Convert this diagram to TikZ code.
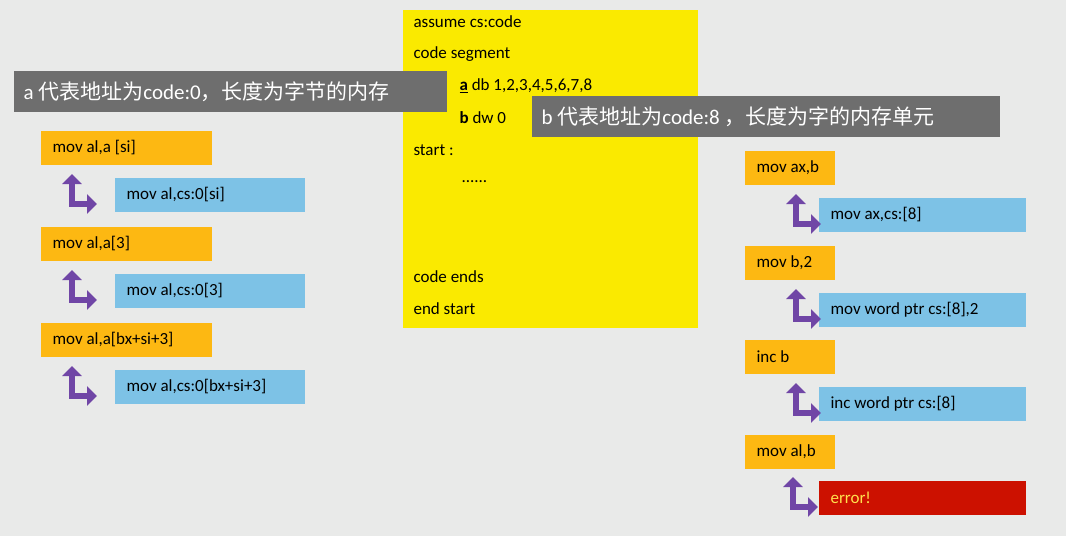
\documentclass[tikz,border=0pt]{standalone}
\usepackage{fontspec}
\setmainfont{Carlito}
\newfontfamily\cjk{Noto Sans CJK SC}
\usetikzlibrary{arrows.meta}
\definecolor{bg}{HTML}{E9EAE9}
\definecolor{yel}{HTML}{FAEA00}
\definecolor{org}{HTML}{FDB812}
\definecolor{blu}{HTML}{7DC2E6}
\definecolor{gry}{HTML}{6E6E6E}
\definecolor{pur}{HTML}{7046A6}
\definecolor{err}{HTML}{CC1100}
\definecolor{errt}{HTML}{FFE14D}
\tikzset{
 box/.style={draw=none,anchor=north west,inner sep=0,minimum height=34pt,text depth=0pt,align=left},
 obox/.style={box,fill=org,minimum width=#1pt},
 bbox/.style={box,fill=blu,minimum width=207pt},
 lbl/.style={anchor=west,font=\fontsize{17}{20}\selectfont},
 banner/.style={fill=gry,text=white,anchor=north west,inner sep=0,minimum height=41pt,font=\fontsize{21}{24}\selectfont},
 parr/.style={pur,line width=6pt,{Triangle[width=19pt,length=10pt]}-{Triangle[width=19pt,length=10pt]}},
 code/.style={anchor=west,font=\fontsize{17}{20}\selectfont}
}
\begin{document}
\begin{tikzpicture}[x=1pt,y=-1pt]
\fill[bg] (0,0) rectangle (1066,536);
\useasboundingbox (0,0) rectangle (1066,536);
% yellow code box
\fill[yel] (403,10) rectangle (698,328);
\node[code] (l1) at (410,22) {assume cs:code};
\node[code] (l2) at (410,54) {code segment};
\node[code] (l3) at (456,86) {\textbf{\underline{a}} db 1,2,3,4,5,6,7,8};
\node[code] (l4) at (456,118) {\textbf{b} dw 0};
\node[code] (l5) at (410,150) {start :};
\node[code] (l6) at (458,182) {......};
\node[code] (l7) at (410,277) {code ends};
\node[code] (l8) at (410,309) {end start};
% banners
\node[banner,minimum width=433pt] (ba) at (14,71) {};
\node[anchor=west,text=white,font=\fontsize{21}{24}\selectfont] at (20,92) {a {\cjk 代表地址为}code:0{\cjk ，长度为字节的内存}};
\node[banner,minimum width=468pt] (bb) at (532,96) {};
\node[anchor=west,text=white,font=\fontsize{21}{24}\selectfont] at (538,117) {b {\cjk 代表地址为}code:8 {\cjk ，长度为字的内存单元}};
% left column
\foreach \y/\o/\b [count=\i] in {131/{mov al,a [si]}/{mov al,cs:0[si]},227/{mov al,a[3]}/{mov al,cs:0[3]},323/{mov al,a[bx+si+3]}/{mov al,cs:0[bx+si+3]}}{
  \node[obox=171] (lo\i) at (41,\y) {};
  \node[lbl] at (49,\y+17) {\o};
  \node[bbox,minimum width=190pt] (lb\i) at (115,\y+47) {};
  \node[lbl] at (123,\y+64) {\b};
  \coordinate (lt\i) at (72,\y+43);
  \coordinate (lc\i) at (72,\y+73);
  \coordinate (le\i) at (97,\y+73);
  \draw[parr] (lt\i) -- (lc\i) -- (le\i);
}
% right column
\foreach \y/\o/\b [count=\i] in {151/{mov ax,b}/{mov ax,cs:[8]},246/{mov b,2}/{mov word ptr cs:[8],2},340/{inc b}/{inc word ptr cs:[8]}}{
  \node[obox=90] (ro\i) at (745,\y) {};
  \node[lbl] at (753,\y+17) {\o};
  \node[bbox] (rb\i) at (819,\y+47) {};
  \node[lbl] at (827,\y+64) {\b};
  \coordinate (rt\i) at (796,\y+43);
  \coordinate (rc\i) at (796,\y+73);
  \coordinate (re\i) at (821,\y+73);
  \draw[parr] (rt\i) -- (rc\i) -- (re\i);
}
\node[obox=90] (ro4) at (745,435) {};
\node[lbl] at (753,452) {mov al,b};
\node[box,fill=err,minimum width=207pt] (rb4) at (819,481) {};
\node[lbl,text=errt] at (827,498) {error!};
\coordinate (rt4) at (793,477);
\coordinate (rc4) at (793,507);
\coordinate (re4) at (818,507);
\draw[parr] (rt4) -- (rc4) -- (re4);
\end{tikzpicture}
\end{document}
